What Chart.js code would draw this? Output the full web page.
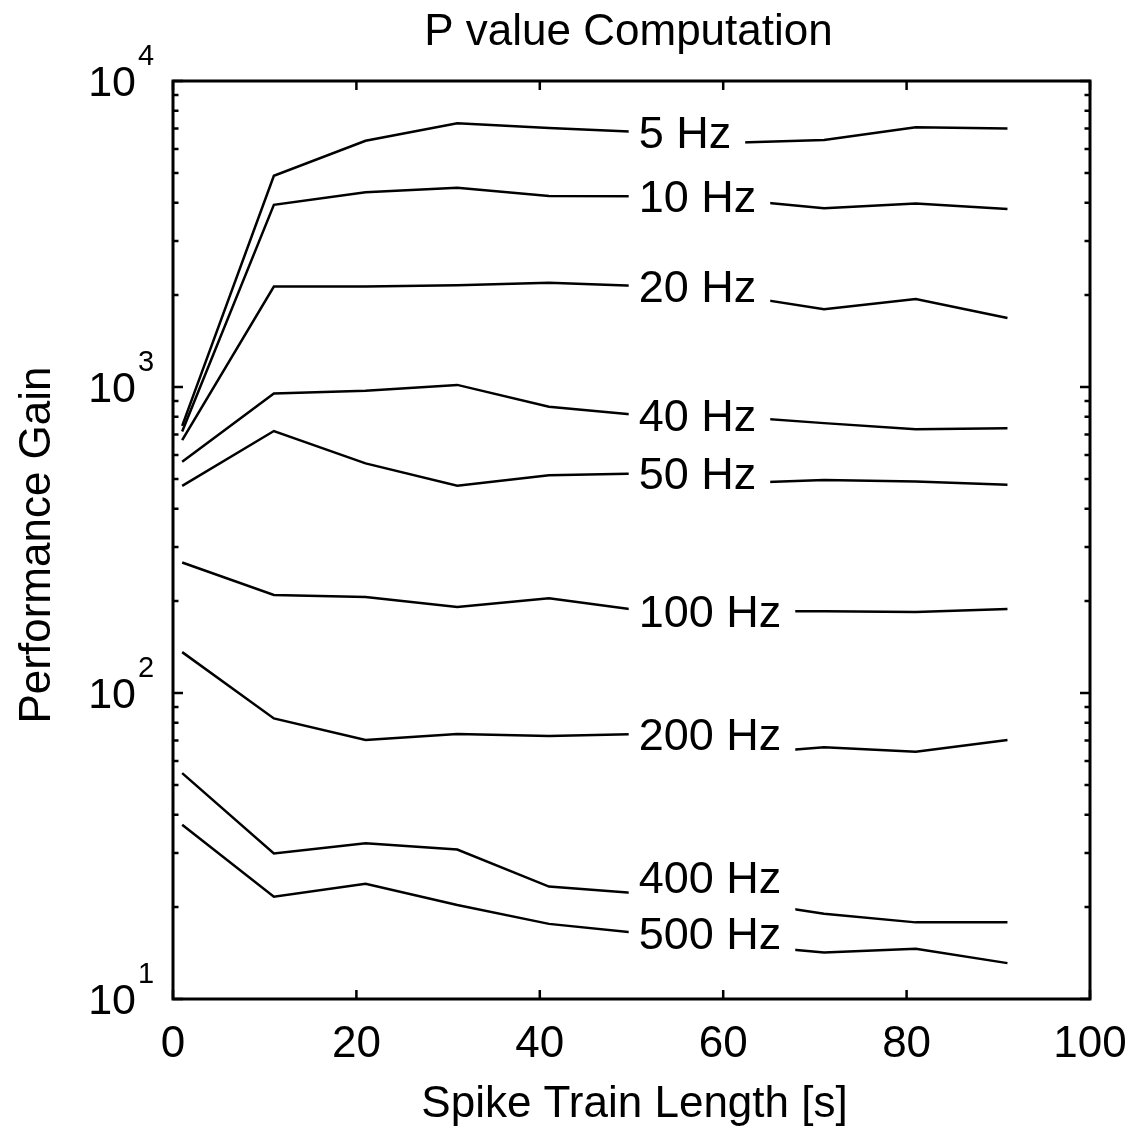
<!DOCTYPE html>
<html><head><meta charset="utf-8">
<script src="https://cdn.jsdelivr.net/npm/chart.js@4.4.1/dist/chart.umd.min.js"></script>
<style>html,body{margin:0;padding:0;background:#fff}canvas{display:block}</style>
</head><body>
<canvas id="c" width="1140" height="1127"></canvas>
<script>
// ---------- data ----------
const chartTitle = 'P value Computation';
const xTitle = 'Spike Train Length [s]';
const yTitle = 'Performance Gain';

const trainLength = [1, 11, 21, 31, 41, 51, 61, 71, 81, 91];

const seriesNames = ['5 Hz', '10 Hz', '20 Hz', '40 Hz', '50 Hz', '100 Hz', '200 Hz', '400 Hz', '500 Hz'];
const gain5Hz   = [746, 4900, 6380, 7280, 7020, 6810, 6280, 6410, 7060, 7000];
const gain10Hz  = [715, 3940, 4330, 4480, 4210, 4200, 4100, 3840, 3980, 3820];
const gain20Hz  = [671, 2130, 2130, 2150, 2190, 2140, 2000, 1795, 1940, 1680];
const gain40Hz  = [570, 952, 973, 1016, 862, 809, 801, 762, 728, 733];
const gain50Hz  = [475, 718, 563, 476, 515, 522, 485, 497, 491, 479];
const gain100Hz = [267, 209, 206, 191, 204, 186, 185, 185, 184, 188];
const gain200Hz = [136, 82.6, 70.2, 73.5, 72.4, 73.4, 63, 66.5, 64.3, 70.2];
const gain400Hz = [54.7, 29.9, 32.3, 30.8, 23.3, 22.1, 21.1, 19.0, 17.8, 17.8];
const gain500Hz = [37.1, 21.6, 23.8, 20.3, 17.6, 16.4, 15.1, 14.2, 14.6, 13.1];

const xTickValues = [0, 20, 40, 60, 80, 100];
const yDecadeExponents = [1, 2, 3, 4];

// where the inline series labels sit (x value of the data point they sit on)
const labelAtX = 51;

// ---------- styling / layout ----------
const seriesValues = [gain5Hz, gain10Hz, gain20Hz, gain40Hz, gain50Hz, gain100Hz, gain200Hz, gain400Hz, gain500Hz];
const labelLift = [0, 0, 0, 0, 0, 0, 0, 17, 0];
const FONT = '"Liberation Sans", Arial, Helvetica, sans-serif';

const decor = {
  id: 'decor',
  afterDatasetsDraw(chart) {
    const { ctx, chartArea: a, scales: { x, y } } = chart;
    ctx.save();

    // inline labels with white backing that interrupts the lines
    ctx.font = `45px ${FONT}`;
    const idx = trainLength.indexOf(labelAtX);
    const items = seriesNames.map((name, i) => {
      const lineY = y.getPixelForValue(seriesValues[i][idx]);
      const cy = lineY - labelLift[i];
      const px = x.getPixelForValue(labelAtX);
      const w = ctx.measureText(name).width;
      return { name, px, cy, lineY, w };
    });
    ctx.fillStyle = '#fff';
    items.forEach(it => {
      const top = Math.min(it.cy, it.lineY) - 23;
      const bot = Math.max(it.cy, it.lineY) + 23;
      ctx.fillRect(it.px - 12, top, it.w + 24, bot - top);
    });
    ctx.fillStyle = '#000';
    ctx.textAlign = 'left';
    ctx.textBaseline = 'alphabetic';
    items.forEach(it => ctx.fillText(it.name, it.px - 2, it.cy + 16));

    // frame
    ctx.strokeStyle = '#000';
    ctx.lineWidth = 3;
    ctx.strokeRect(a.left, a.top, a.right - a.left, a.bottom - a.top);

    // x ticks (inward, bottom and top)
    ctx.lineWidth = 2.5;
    ctx.beginPath();
    xTickValues.forEach(v => {
      const px = x.getPixelForValue(v);
      ctx.moveTo(px, a.bottom); ctx.lineTo(px, a.bottom - 9);
      ctx.moveTo(px, a.top); ctx.lineTo(px, a.top + 9);
    });
    // y ticks major + minor (inward, left and right)
    yDecadeExponents.forEach(e => {
      const py = y.getPixelForValue(Math.pow(10, e));
      ctx.moveTo(a.left, py); ctx.lineTo(a.left + 10, py);
      ctx.moveTo(a.right, py); ctx.lineTo(a.right - 10, py);
      if (e < yDecadeExponents[yDecadeExponents.length - 1]) {
        for (let m = 2; m <= 9; m++) {
          const pm = y.getPixelForValue(m * Math.pow(10, e));
          ctx.moveTo(a.left, pm); ctx.lineTo(a.left + 5.5, pm);
          ctx.moveTo(a.right, pm); ctx.lineTo(a.right - 5.5, pm);
        }
      }
    });
    ctx.stroke();

    // x tick labels
    ctx.fillStyle = '#000';
    ctx.font = `44px ${FONT}`;
    ctx.textAlign = 'center';
    ctx.textBaseline = 'alphabetic';
    xTickValues.forEach(v => {
      ctx.fillText(String(v), x.getPixelForValue(v), a.bottom + 58);
    });

    // y tick labels 10^e
    yDecadeExponents.forEach(e => {
      const py = y.getPixelForValue(Math.pow(10, e));
      ctx.font = `43px ${FONT}`;
      ctx.textAlign = 'right';
      ctx.fillText('10', a.left - 37, py + 15);
      ctx.font = `29px ${FONT}`;
      ctx.textAlign = 'left';
      ctx.fillText(String(e), a.left - 35, py - 16);
    });

    // axis titles
    ctx.font = `44px ${FONT}`;
    ctx.textAlign = 'center';
    ctx.fillText(xTitle, (a.left + a.right) / 2 + 3, a.bottom + 118);
    ctx.save();
    ctx.translate(50, (a.top + a.bottom) / 2 + 5);
    ctx.rotate(-Math.PI / 2);
    ctx.fillText(yTitle, 0, 0);
    ctx.restore();

    // chart title
    ctx.fillText(chartTitle, (a.left + a.right) / 2 - 3, a.top - 36);

    ctx.restore();
  }
};

new Chart(document.getElementById('c'), {
  type: 'line',
  data: {
    datasets: seriesNames.map((name, i) => ({
      label: name,
      data: trainLength.map((t, j) => ({ x: t, y: seriesValues[i][j] })),
      borderColor: '#000',
      backgroundColor: '#000',
      borderWidth: 2.5,
      pointRadius: 0,
      tension: 0,
      fill: false
    }))
  },
  options: {
    responsive: false,
    animation: false,
    devicePixelRatio: 1,
    layout: { padding: { left: 173, right: 50, top: 81, bottom: 128 } },
    plugins: { legend: { display: false }, tooltip: { enabled: false }, title: { display: false } },
    scales: {
      x: { type: 'linear', min: 0, max: 100, display: false },
      y: { type: 'logarithmic', min: 10, max: 10000, display: false }
    }
  },
  plugins: [decor]
});
</script>
</body></html>
